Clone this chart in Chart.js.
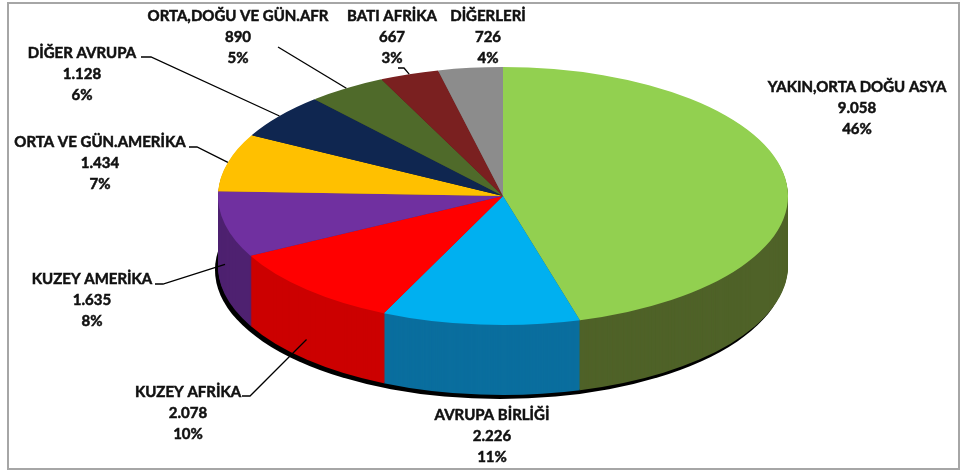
<!DOCTYPE html>
<html>
<head>
<meta charset="utf-8">
<script src="https://cdn.jsdelivr.net/npm/chart.js@4/dist/chart.umd.min.js"></script>
<style>
html, body { margin: 0; padding: 0; background: #fff; }
#frame { position: absolute; left: 7px; top: 2px; width: 949px; height: 464px; border: 2px solid #a6a6a6; }
#pie { position: absolute; left: 0; top: 0; }
</style>
</head>
<body>
<div id="frame"></div>
<canvas id="pie" width="965" height="472"></canvas>
<script>
// data
const categories = ['YAKIN,ORTA DOĞU ASYA', 'AVRUPA BİRLİĞİ', 'KUZEY AFRİKA', 'KUZEY AMERİKA',
    'ORTA VE GÜN.AMERİKA', 'DİĞER AVRUPA', 'ORTA,DOĞU VE GÜN.AFR', 'BATI AFRİKA', 'DİĞERLERİ'];
const values = [9058, 2226, 2078, 1635, 1434, 1128, 890, 667, 726];

// styles
const topColors  = ['#92D050', '#00B0F0', '#FF0000', '#7030A0', '#FFC000', '#0F2650', '#4F6A2A', '#7A2020', '#8C8C8C'];
const sideColors = ['#4F6228', '#0A6E9E', '#CC0000', '#4E2170', '#B38600', '#081633', '#37451C', '#561515', '#5F5F5F'];
const PIE = { cx: 503, cy: 196, rx: 285, ry: 129, depth: 70 };
const FONT = 'bold 15px Lato';
const LINE_H = 21;
// label layout: text centre x, first line y, leader start, drop below top rim
const labelPos = [
    { x: 857, y: 87 },
    { x: 492, y: 415 },
    { x: 188, y: 392, lx: 242, ly: 396, stub: 8, drop: 50 },
    { x: 92,  y: 279, lx: 155, ly: 284, stub: 8, drop: 40 },
    { x: 100, y: 142, lx: 189, ly: 147, stub: 8, drop: 0 },
    { x: 82,  y: 53,  lx: 141, ly: 57,  stub: 10, drop: 0 },
    { x: 238, y: 16,  lx: 278, ly: 47,  stub: 0, drop: 0 },
    { x: 392, y: 16,  lx: 398, ly: 68,  stub: 6, drop: 0 },
    { x: 488, y: 16 }
];

function fmt(n) {
    return n.toString().replace(/\B(?=(\d{3})+(?!\d))/g, '.');
}

// percentages that add up to 100 (largest remainder, like Excel)
function percents(vals) {
    let total = vals.reduce((a, b) => a + b, 0);
    let raw = vals.map(v => v / total * 100);
    let out = raw.map(Math.floor);
    let left = 100 - out.reduce((a, b) => a + b, 0);
    let order = raw.map((r, i) => i).sort((a, b) => (raw[b] - out[b]) - (raw[a] - out[a]));
    for (let k = 0; k < left; k++) out[order[k]]++;
    return out;
}
const pct = percents(values);

function toScreen(chart, ctx, dx, dy) {
    let a0 = chart.getDatasetMeta(0).data[0];
    let R = a0.outerRadius;
    ctx.translate(PIE.cx + dx, PIE.cy + dy);
    ctx.scale(PIE.rx / R, PIE.ry / R);
    ctx.translate(-a0.x, -a0.y);
}

function wedge(ctx, a) {
    ctx.beginPath();
    ctx.moveTo(a.x, a.y);
    ctx.arc(a.x, a.y, a.outerRadius, a.startAngle, a.endAngle);
    ctx.closePath();
}

const pie3d = {
    id: 'pie3d',
    beforeDatasetsDraw(chart) {
        let ctx = chart.ctx;
        let arcs = chart.getDatasetMeta(0).data;
        // dark rim under the side
        ctx.save();
        toScreen(chart, ctx, -3, PIE.depth + 4);
        ctx.beginPath();
        ctx.arc(arcs[0].x, arcs[0].y, arcs[0].outerRadius, 0, Math.PI * 2);
        ctx.fillStyle = '#000';
        ctx.fill();
        ctx.restore();
        // side walls
        for (let k = PIE.depth; k > 0; k--) {
            ctx.save();
            toScreen(chart, ctx, 0, k);
            arcs.forEach((a, i) => {
                wedge(ctx, a);
                ctx.fillStyle = sideColors[i];
                ctx.fill();
            });
            ctx.restore();
        }
        ctx.save();
        toScreen(chart, ctx, 0, 0);
    },
    afterDatasetsDraw(chart) {
        chart.ctx.restore();
    },
    afterDraw(chart) {
        let ctx = chart.ctx;
        let arcs = chart.getDatasetMeta(0).data;
        ctx.save();
        ctx.font = FONT;
        ctx.fillStyle = '#111';
        ctx.strokeStyle = '#111';
        ctx.lineWidth = 0.5;
        ctx.textAlign = 'center';
        ctx.textBaseline = 'middle';
        categories.forEach((name, i) => {
            let p = labelPos[i];
            let lines = [name, fmt(values[i]), pct[i] + '%'];
            lines.forEach((t, j) => {
                ctx.fillText(t, p.x, p.y + j * LINE_H);
                ctx.strokeText(t, p.x, p.y + j * LINE_H);
            });
        });
        ctx.strokeStyle = '#000';
        ctx.lineWidth = 1.3;
        categories.forEach((name, i) => {
            let p = labelPos[i];
            if (p.lx === undefined) return;
            let mid = (arcs[i].startAngle + arcs[i].endAngle) / 2;
            let ex = PIE.cx + PIE.rx * Math.cos(mid);
            let ey = PIE.cy + PIE.ry * Math.sin(mid) + p.drop;
            ctx.beginPath();
            ctx.moveTo(p.lx, p.ly);
            ctx.lineTo(p.lx + p.stub, p.ly);
            ctx.lineTo(ex, ey);
            ctx.stroke();
        });
        ctx.restore();
    }
};

new Chart(document.getElementById('pie'), {
    type: 'pie',
    data: {
        labels: categories,
        datasets: [{
            data: values,
            backgroundColor: topColors,
            borderWidth: 0,
            clip: false
        }]
    },
    options: {
        responsive: false,
        animation: false,
        plugins: {
            legend: { display: false },
            tooltip: { enabled: false }
        }
    },
    plugins: [pie3d]
});
</script>
</body>
</html>
